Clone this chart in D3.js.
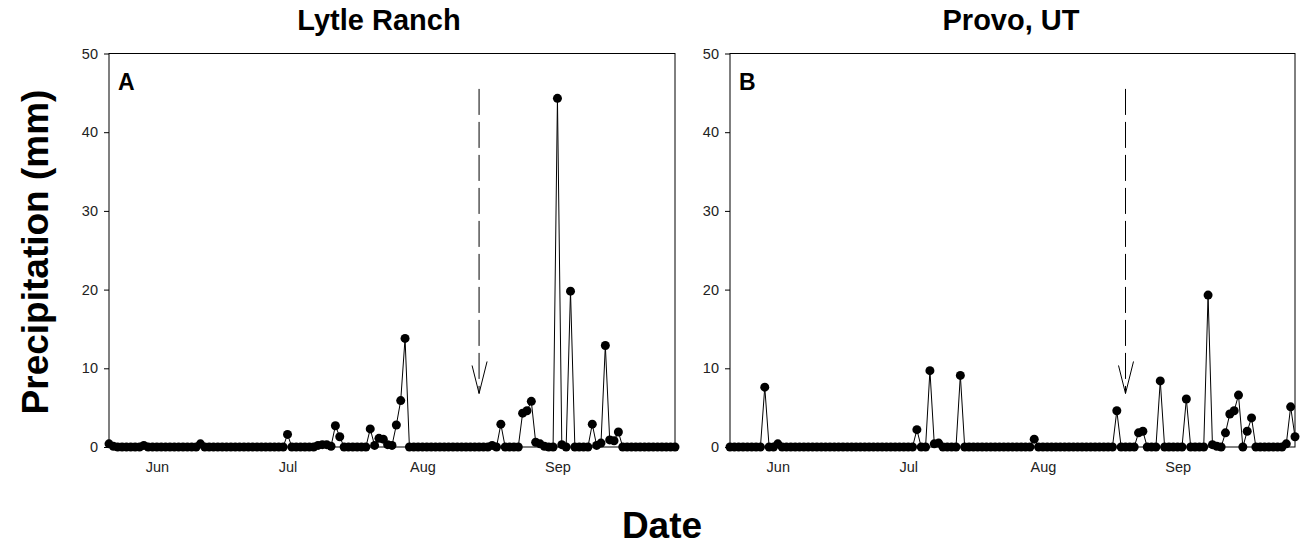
<!DOCTYPE html>
<html>
<head>
<meta charset="utf-8">
<script src="https://cdn.jsdelivr.net/npm/d3@7"></script>
<style>
  body { margin: 0; background: #fff; }
  svg text { font-family: "Liberation Sans", Arial, sans-serif; }
</style>
</head>
<body>
<div id="chart"></div>
<script>
// daily precipitation (mm), one value per day starting May 21
const startDate = new Date(2013, 4, 21);
const endDate = new Date(2013, 8, 28);

const lytleRanch = [
  0.4, 0.1, 0, 0, 0, 0, 0, 0, 0.2, 0,
  0, 0, 0, 0, 0, 0, 0, 0, 0, 0,
  0, 0.4, 0, 0, 0, 0, 0, 0, 0, 0,
  0, 0, 0, 0, 0, 0, 0, 0, 0, 0,
  0, 1.6, 0, 0, 0, 0, 0, 0, 0.2, 0.3,
  0.3, 0.1, 2.7, 1.3, 0, 0, 0, 0, 0, 0,
  2.3, 0.2, 1.1, 1.0, 0.3, 0.2, 2.8, 5.9, 13.8, 0,
  0, 0, 0, 0, 0, 0, 0, 0, 0, 0,
  0, 0, 0, 0, 0, 0, 0, 0, 0.2, 0,
  2.9, 0, 0, 0, 0, 4.3, 4.6, 5.8, 0.6, 0.4,
  0.1, 0, 0, 44.3, 0.3, 0, 19.8, 0, 0, 0,
  0, 2.9, 0.2, 0.5, 12.9, 0.9, 0.8, 1.9, 0, 0,
  0, 0, 0, 0, 0, 0, 0, 0, 0, 0,
  0
];

const provo = [
  0, 0, 0, 0, 0, 0, 0, 0, 7.6, 0,
  0, 0.4, 0, 0, 0, 0, 0, 0, 0, 0,
  0, 0, 0, 0, 0, 0, 0, 0, 0, 0,
  0, 0, 0, 0, 0, 0, 0, 0, 0, 0,
  0, 0, 0, 2.2, 0, 0, 9.7, 0.4, 0.5, 0,
  0, 0, 0, 9.1, 0, 0, 0, 0, 0, 0,
  0, 0, 0, 0, 0, 0, 0, 0, 0, 0,
  1.0, 0, 0, 0, 0, 0, 0, 0, 0, 0,
  0, 0, 0, 0, 0, 0, 0, 0, 0, 4.6,
  0, 0, 0, 0, 1.8, 2.0, 0, 0, 0, 8.4,
  0, 0, 0, 0, 0, 6.1, 0, 0, 0, 0,
  19.3, 0.3, 0.1, 0, 1.8, 4.2, 4.6, 6.6, 0, 2.0,
  3.7, 0, 0, 0, 0, 0, 0, 0, 0.4, 5.1,
  1.3
];

const monthTicks = [new Date(2013, 5, 1), new Date(2013, 6, 1), new Date(2013, 7, 1), new Date(2013, 8, 1)];
const monthLabels = ['Jun', 'Jul', 'Aug', 'Sep'];
const yTicks = [0, 10, 20, 30, 40, 50];

// dashed arrows: date, top and tip value (mm)
const arrowDates = [new Date(2013, 7, 14), new Date(2013, 7, 20)];
const arrowTop = 45.5;
const arrowTip = 6.8;

const panels = [
  {title: 'Lytle Ranch', letter: 'A', values: lytleRanch, arrow: arrowDates[0], left: 109, right: 675, titleX: 379},
  {title: 'Provo, UT', letter: 'B', values: provo, arrow: arrowDates[1], left: 730, right: 1295, titleX: 1011}
];

const width = 1304, height = 548;
const plotTop = 53.5, plotBottom = 447;

const svg = d3.select('#chart').append('svg')
  .attr('width', width)
  .attr('height', height);

const days = d3.timeDay.range(startDate, d3.timeDay.offset(endDate, 1));

const y = d3.scaleLinear().domain([0, 50]).range([plotBottom, plotTop]);

panels.forEach(p => {
  const x = d3.scaleTime().domain([startDate, endDate]).range([p.left, p.right]);
  const pts = days.map((d, i) => ({date: d, value: p.values[i]}));

  const g = svg.append('g');

  // frame
  g.append('rect')
    .attr('x', p.left)
    .attr('y', plotTop)
    .attr('width', p.right - p.left)
    .attr('height', plotBottom - plotTop)
    .attr('fill', 'none')
    .attr('stroke', '#000')
    .attr('stroke-width', 1);

  const yAxis = g.append('g')
    .attr('transform', 'translate(' + p.left + ',0)')
    .call(d3.axisLeft(y).tickValues(yTicks).tickSize(5).tickPadding(6));
  yAxis.select('.domain').remove();
  yAxis.selectAll('text').attr('font-size', 14.5).attr('fill', '#222');

  const xAxis = g.append('g')
    .attr('transform', 'translate(0,' + plotBottom + ')')
    .call(d3.axisBottom(x).tickValues(monthTicks).tickFormat((d, i) => monthLabels[i]).tickSize(0).tickPadding(15));
  xAxis.select('.domain').remove();
  xAxis.selectAll('text').attr('font-size', 14.5).attr('fill', '#222');

  const line = d3.line()
    .x(d => x(d.date))
    .y(d => y(d.value));

  g.append('path')
    .datum(pts)
    .attr('d', line)
    .attr('fill', 'none')
    .attr('stroke', '#000')
    .attr('stroke-width', 1);

  g.selectAll('circle')
    .data(pts)
    .enter().append('circle')
    .attr('cx', d => x(d.date))
    .attr('cy', d => y(d.value))
    .attr('r', 4.5)
    .attr('fill', '#000');

  // dashed arrow
  const ax = x(p.arrow);
  g.append('line')
    .attr('x1', ax).attr('x2', ax)
    .attr('y1', y(arrowTop)).attr('y2', y(arrowTip))
    .attr('stroke', '#000')
    .attr('stroke-width', 1)
    .attr('stroke-dasharray', '26,7');
  g.append('path')
    .attr('d', 'M' + (ax - 7) + ',' + (y(arrowTip) - 28) + 'L' + ax + ',' + y(arrowTip) + 'L' + (ax + 8) + ',' + (y(arrowTip) - 32))
    .attr('fill', 'none')
    .attr('stroke', '#000')
    .attr('stroke-width', 1);

  g.append('text')
    .attr('x', p.left + 9)
    .attr('y', 90)
    .attr('font-size', 23)
    .attr('font-weight', 'bold')
    .text(p.letter);

  svg.append('text')
    .attr('x', p.titleX)
    .attr('y', 30)
    .attr('text-anchor', 'middle')
    .attr('font-size', 29)
    .attr('font-weight', 'bold')
    .text(p.title);
});

svg.append('text')
  .attr('transform', 'translate(48,252) rotate(-90)')
  .attr('text-anchor', 'middle')
  .attr('font-size', 37)
  .attr('font-weight', 'bold')
  .text('Precipitation (mm)');

svg.append('text')
  .attr('x', 662)
  .attr('y', 538)
  .attr('text-anchor', 'middle')
  .attr('font-size', 37)
  .attr('font-weight', 'bold')
  .text('Date');
</script>
</body>
</html>
